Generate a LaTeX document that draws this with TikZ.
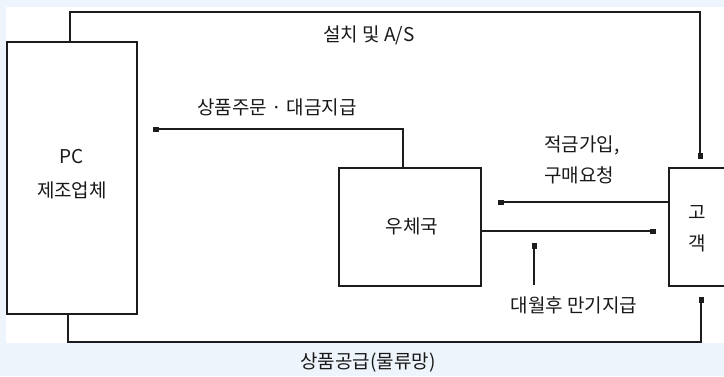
\documentclass[tikz,border=0pt]{standalone}
\usepackage{fontspec}
\setmainfont{Noto Sans CJK KR}
\usetikzlibrary{arrows.meta}
\definecolor{bgblue}{HTML}{EEF4FB}
\definecolor{ln}{HTML}{1C1C1C}
\tikzset{
  box/.style={draw=ln, line width=2.4pt, fill=white, inner sep=0pt},
  conn/.style={draw=ln, line width=2.4pt},
  tip/.style={-{Rectangle[length=5.5pt,width=5pt]}},
  lbl/.style={font=\fontsize{19}{22}\selectfont, text=black!90, inner sep=0pt},
}
\begin{document}
\begin{tikzpicture}[x=1pt,y=-1pt]
\useasboundingbox (0,0) rectangle (724,376);
\fill[bgblue] (0,0) rectangle (724,376);
\fill[white] (6,7) rectangle (724,343);
\clip (0,0) rectangle (724,376);

% boxes
\node[box, minimum width=130pt, minimum height=272pt] (pc) at (72,178) {};
\node[box, minimum width=142pt, minimum height=118pt] (post) at (410,227) {};
\node[box, minimum width=70pt, minimum height=118pt] (cust) at (704,227) {};

% box texts
\node[lbl] (pcA) at (72,157) {PC};
\node[lbl] (pcB) at (72,190) {제조업체};
\node[lbl] (postT) at (412,226) {우체국};
\node[lbl] (custA) at (697,213) {고};
\node[lbl] (custB) at (697,243) {객};

% routing coordinates
\coordinate (t1) at (70,12);
\coordinate (t2) at (700,12);
\coordinate (o1) at (403,129);
\coordinate (r1) at (0,202);
\coordinate (r2) at (0,231);
\coordinate (m1) at (534,285);
\coordinate (m2) at (534,243);
\coordinate (b1) at (68,342);
\coordinate (b2) at (701,342);

% connectors
\draw[conn,tip,shorten >=8pt] (pc.north -| t1) -- (t1) -- (t2) -- (cust.north -| t2);
\draw[conn,tip,shorten >=15pt] (post.north -| o1) -- (o1) -- (o1 -| pc.east);
\draw[conn,tip,shorten >=16pt] (cust.west |- r1) -- (post.east |- r1);
\draw[conn,tip,shorten >=12pt] (post.east |- r2) -- (cust.west |- r2);
\draw[conn,tip] (m1) -- (m2);
\draw[conn,tip,shorten >=10pt] (pc.south -| b1) -- (b1) -- (b2) -- (cust.south -| b2);

% labels
\node[lbl] (lAS) at (369,35) {설치 및 A/S};
\node[lbl] (lOrd) at (277,107) {상품주문 · 대금지급};
\node[lbl, anchor=west] (lSav1) at (544,145) {적금가입,};
\node[lbl, anchor=west] (lSav2) at (544,175) {구매요청};
\node[lbl] (lMat) at (574,305) {대월후 만기지급};
\node[lbl] (lSup) at (368,362) {상품공급(물류망)};
\end{tikzpicture}
\end{document}
